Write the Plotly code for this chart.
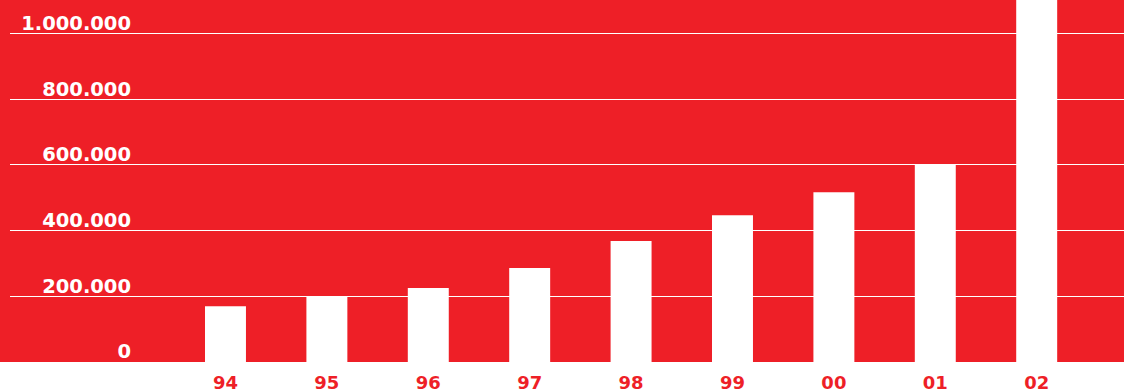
import plotly.graph_objects as go

years = ["94", "95", "96", "97", "98", "99", "00", "01", "02"]
values = [170000, 201000, 225000, 286000, 368000, 447000, 517000, 600000, 1200000]
tick_vals = [0, 200000, 400000, 600000, 800000, 1000000]
tick_text = ["0", "200.000", "400.000", "600.000", "800.000", "1.000.000"]

RED = "#EE1F27"
FONT = "DejaVu Sans"
Y_MAX = 1102000
LABEL_SHIFT = 32000  # label axis offset so labels sit just above each gridline

fig = go.Figure()
fig.add_trace(go.Bar(
    x=years, y=values, marker=dict(color="white", line=dict(width=0)),
    width=0.404, showlegend=False, hoverinfo="skip",
))
# invisible trace to activate the label axis
fig.add_trace(go.Scatter(x=[years[0]], y=[0], yaxis="y2", mode="markers",
                         marker=dict(opacity=0), showlegend=False, hoverinfo="skip"))

fig.update_layout(
    width=1124, height=392,
    margin=dict(l=10, r=0, t=0, b=30),
    paper_bgcolor="white",
    plot_bgcolor=RED,
    xaxis=dict(
        type="category", range=[-2.125, 8.861], automargin=False,
        showgrid=False, zeroline=False, showline=False,
        ticks="", ticklabelstandoff=8,
        tickfont=dict(family=FONT, size=18, color=RED, weight="bold"),
    ),
    yaxis=dict(
        range=[0, Y_MAX], automargin=False,
        tickvals=tick_vals, showticklabels=False,
        showgrid=True, gridcolor="white", gridwidth=1,
        zeroline=False, showline=False, ticks="",
    ),
    yaxis2=dict(
        range=[-LABEL_SHIFT, Y_MAX - LABEL_SHIFT], automargin=False,
        overlaying="y", anchor="free", position=(131 - 10) / 1114,
        tickvals=tick_vals, ticktext=tick_text,
        showgrid=False, zeroline=False, showline=False, ticks="",
        ticklabelposition="outside",
        tickfont=dict(family=FONT, size=19.5, color="white", weight="bold"),
    ),
    shapes=[dict(
        type="rect", xref="paper", yref="paper",
        x0=-10 / 1114, x1=1, y0=0, y1=1,
        fillcolor=RED, line=dict(width=0), layer="below",
    )],
)

fig.write_html("out.html")
